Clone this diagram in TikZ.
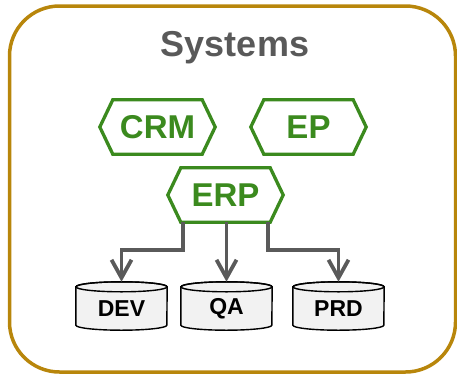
\documentclass[tikz,border=0pt]{standalone}
\usepackage{fontspec}
\setmainfont{Liberation Sans}
\usetikzlibrary{backgrounds}
\definecolor{frameGold}{HTML}{B8860B}
\definecolor{hexGreen}{HTML}{3B8A1E}
\definecolor{titleGray}{HTML}{595959}
\definecolor{arrGray}{HTML}{5A5A5A}
\definecolor{dbFill}{HTML}{F2F2F2}
\tikzset{
  hexnode/.style={minimum width=115pt, minimum height=54pt, inner sep=0pt,
    text=hexGreen, font=\fontsize{33}{36}\selectfont\bfseries},
  hexline/.style={draw=hexGreen, line width=3.3pt, line join=miter},
  dbnode/.style={minimum width=91pt, minimum height=48pt, inner sep=0pt,
    text=black, font=\fontsize{23}{26}\selectfont\bfseries},
  dbtext/.style={inner sep=0pt, text=black, font=\fontsize{23}{26}\selectfont\bfseries},
  dbline/.style={draw=black, line width=1.4pt, fill=dbFill},
  conn/.style={draw=arrGray, line width=3.8pt},
  barbline/.style={draw=arrGray, line width=3.8pt, line join=miter},
}
\begin{document}
\begin{tikzpicture}[x=1pt,y=-1pt]
\useasboundingbox (0,0) rectangle (457,375);
\draw[frameGold, line width=3.5pt, rounded corners=50pt] (9.5,6) rectangle (455.5,372);
\node[text=titleGray, font=\fontsize{36}{40}\selectfont\bfseries] (title) at (235,48) {Systems};

\node[hexnode] (crm) at (157.5,127) {CRM};
\node[hexnode] (ep) at (308.5,127) {EP};
\node[hexnode] (erp) at (225.5,195) {ERP};
\foreach \n in {crm,ep,erp}{
  \draw[hexline] ([xshift=13pt]\n.north west) -- ([xshift=-13pt]\n.north east) -- (\n.east)
    -- ([xshift=-13pt]\n.south east) -- ([xshift=13pt]\n.south west) -- (\n.west) -- cycle;
}

\node[dbnode] (dev) at (121.5,306) {};
\node[dbnode] (qa) at (226.5,306) {};
\node[dbnode] (prd) at (338.5,306) {};
\node[dbtext] (devt) at (121.5,309) {DEV};
\node[dbtext] (qat) at (226.5,309) {QA};
\node[dbtext] (prdt) at (338.5,309) {PRD};
\begin{scope}[on background layer]
\foreach \n in {dev,qa,prd}{
  \path[dbline] ([yshift=-5pt]\n.north west) -- ([yshift=5pt]\n.south west)
    arc[start angle=180, end angle=360, x radius=45.5pt, y radius=5pt]
    -- ([yshift=-5pt]\n.north east)
    arc[start angle=0, end angle=180, x radius=45.5pt, y radius=5pt] -- cycle;
  \draw[line width=1.4pt] ([yshift=-5pt]\n.north) ellipse[x radius=45.5pt, y radius=5pt];
}
\end{scope}

\draw[conn] ([xshift=15pt]erp.south west) -- ++(0,28) -| ([yshift=5pt]dev.north);
\draw[conn] (erp.south -| qa.north) -- ([yshift=5pt]qa.north);
\draw[conn] ([xshift=-15pt]erp.south east) -- ++(0,28) -| ([yshift=5pt]prd.north);
\foreach \n in {dev,qa,prd}{
  \draw[barbline] ([xshift=-10pt,yshift=22pt]\n.north) -- ([yshift=4pt]\n.north)
    -- ([xshift=10pt,yshift=22pt]\n.north);
}
\end{tikzpicture}
\end{document}
